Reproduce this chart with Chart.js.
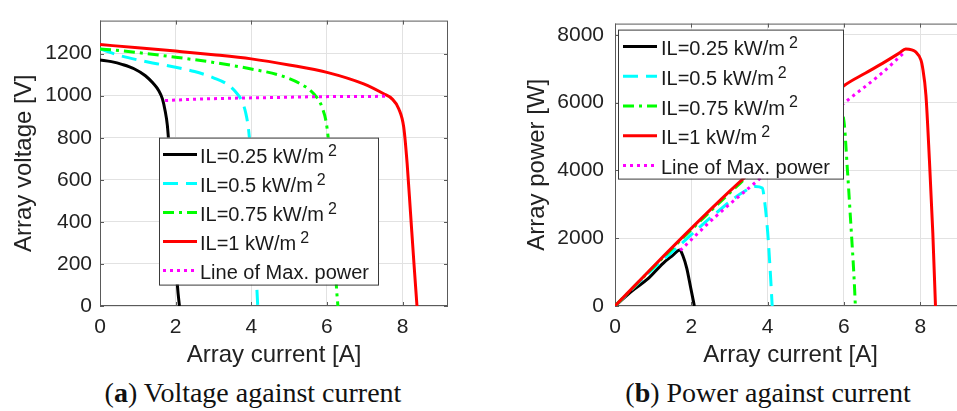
<!DOCTYPE html>
<html>
<head>
<meta charset="utf-8">
<title>PV array characteristics</title>
<script src="https://cdn.jsdelivr.net/npm/chart.js@4.4.0/dist/chart.umd.min.js"></script>
<style>
html,body{margin:0;padding:0;background:#fff;}
body{width:957px;height:411px;overflow:hidden;position:relative;}
.panel{position:absolute;top:0;height:376px;}
#pa{left:0;width:480px;}
#pb{left:480px;width:500px;}
.cap{position:absolute;top:379px;font-size:28px;line-height:28px;font-family:'Liberation Serif','Times New Roman',serif;color:#111;white-space:nowrap;transform:translateX(-50%);}
</style>
</head>
<body>
<div class="panel" id="pa"><canvas id="c-vi"></canvas></div>
<div class="panel" id="pb"><canvas id="c-pi"></canvas></div>
<div class="cap" style="left:253px">(<b>a</b>) Voltage against current</div>
<div class="cap" style="left:768px">(<b>b</b>) Power against current</div>
<script>
/* ══════════════ data ══════════════ */
const seriesNames=['IL=0.25 kW/m^2','IL=0.5 kW/m^2','IL=0.75 kW/m^2','IL=1 kW/m^2','Line of Max. power'];

const currentTicks=[0,2,4,6,8];
const voltageTicks=[0,200,400,600,800,1000,1200];
const powerTicks=[0,2000,4000,6000,8000];

// (a) array voltage [V] against array current [A]
const v025I=[0,0.3,0.6,0.9,1.2,1.4,1.55,1.65,1.72,1.78,1.84,1.92,2.0,2.05,2.1];
const v025V=[1170,1162,1148,1128,1095,1060,1025,985,930,860,720,500,240,90,0];
const v05I=[0,0.5,1,1.5,2,2.5,3,3.35,3.6,3.75,3.85,3.93,3.99,4.05,4.11,4.17];
const v05V=[1222,1192,1170,1152,1135,1115,1085,1056,1015,975,920,835,700,480,220,0];
const v075I=[0,0.5,1,2,3,4,4.77,5.3,5.65,5.87,6.0,6.09,6.18,6.25,6.29];
const v075V=[1222,1215,1205,1183,1158,1127,1096,1056,1009,945,850,677,360,92,0];
const v1I=[0,1,2,3,4,5,6,6.97,7.5,7.72,7.9,8.03,8.12,8.21,8.3,8.38];
const v1V=[1243,1228,1212,1195,1175,1146,1111,1056,1009,985,937,850,677,440,202,0];
const vMaxI=[1.72,2.5,3.5,4.5,5.7,7.6];
const vMaxV=[977,983,988,991,995,997];

// (b) array power [W] against array current [A]
const p025I=[0,0.45,0.85,1.26,1.5,1.7,1.78,1.88,1.98,2.08];
const p025P=[0,450,790,1260,1480,1655,1480,1118,560,0];
const p05I=[0,0.9,1.75,2.63,3.33,3.68,3.86,3.92,4.0,4.06,4.12];
const p05P=[0,990,1850,2725,3338,3527,3480,3100,2200,1200,0];
const p075I=[0,1,2,3,3.5,4,5,5.5,5.85,6.0,6.09,6.18,6.27,6.3];
const p075P=[0,1140,2250,3330,3850,4380,5350,5750,5850,5460,4045,2442,745,0];
const p1I=[0,1,2,3,3.5,4.5,5.25,6.0,6.57,7.01,7.45,7.62,7.89,8.02,8.06,8.15,8.24,8.33,8.4];
const p1P=[0,1160,2290,3380,3900,4960,5740,6497,6874,7157,7459,7580,7487,7252,7050,6214,4328,2159,0];
const pMaxI=[1.71,2.63,3.9,6.0,7.0,7.6];
const pMaxP=[1640,2631,3857,5979,6874,7500];

/* ══════════════ look ══════════════ */
Chart.defaults.font.family="'Liberation Sans', Arial, sans-serif";
Chart.defaults.color='#222';
Chart.defaults.animation=false;

const STYLE=[
  {color:'#000000',dash:[]},
  {color:'#00ffff',dash:[15,8]},
  {color:'#00ff00',dash:[11,5,3,5]},
  {color:'#ff0000',dash:[]},
  {color:'#ff00ff',dash:[3,4]},
];

const pts=(xs,ys)=>xs.map((x,i)=>({x,y:ys[i]}));

function mkSets(pairs){
  return pairs.map(([xs,ys],i)=>({
    label:seriesNames[i],data:pts(xs,ys),
    borderColor:STYLE[i].color,borderDash:STYLE[i].dash,borderWidth:3,
    pointRadius:0,cubicInterpolationMode:'monotone',fill:false,
    order:5-i,   // later series on top, as in the original
  }));
}

// axes frame + inward tick marks
const frame={
  id:'frame',
  beforeDatasetsDraw(chart){
    const{ctx,chartArea:a,scales:{x,y}}=chart;
    ctx.save();
    ctx.strokeStyle='#5a5a5a';ctx.lineWidth=1;
    ctx.strokeRect(a.left+.5,a.top+.5,a.right-a.left-1,a.bottom-a.top-1);
    ctx.beginPath();
    x.ticks.forEach(t=>{const p=Math.round(x.getPixelForValue(t.value))+.5;
      ctx.moveTo(p,a.bottom);ctx.lineTo(p,a.bottom-4);ctx.moveTo(p,a.top);ctx.lineTo(p,a.top+4);});
    y.ticks.forEach(t=>{const p=Math.round(y.getPixelForValue(t.value))+.5;
      ctx.moveTo(a.left,p);ctx.lineTo(a.left+4,p);ctx.moveTo(a.right,p);ctx.lineTo(a.right-4,p);});
    ctx.stroke();
    ctx.restore();
  }
};

// boxed legend inside the plot, MATLAB style
const boxLegend={
  id:'boxLegend',
  afterDraw(chart,args,o){
    const{ctx,chartArea:a}=chart;
    const bx=a.left+o.left,by=a.top+o.top;
    ctx.save();
    ctx.fillStyle='#fff';ctx.fillRect(bx,by,o.width,o.height);
    ctx.strokeStyle='#3a3a3a';ctx.lineWidth=1;ctx.strokeRect(bx+.5,by+.5,o.width,o.height);
    chart.data.datasets.forEach((ds,i)=>{
      const cy=by+o.first+i*o.step;
      ctx.beginPath();ctx.setLineDash(ds.borderDash||[]);
      ctx.strokeStyle=ds.borderColor;ctx.lineWidth=3;
      ctx.moveTo(bx+o.sx,cy);ctx.lineTo(bx+o.sx+34,cy);ctx.stroke();
      ctx.setLineDash([]);
      const[main,sup]=ds.label.split('^');
      const tx=bx+o.tx;
      ctx.fillStyle='#1a1a1a';ctx.textBaseline='middle';ctx.textAlign='left';
      ctx.font="20px 'Liberation Sans', Arial, sans-serif";
      ctx.fillText(main,tx,cy+3);
      if(sup){
        const w=ctx.measureText(main).width;
        ctx.font="16px 'Liberation Sans', Arial, sans-serif";
        ctx.fillText(sup,tx+w+4,cy-3);
      }
    });
    ctx.restore();
  }
};

function axes(yTicks,yMax,yTitle,yWidth,yPad,yTitlePad){
  return{
    x:{type:'linear',min:0,max:9.2,
      afterBuildTicks:s=>{s.ticks=currentTicks.map(v=>({value:v}));},
      afterFit:s=>{s.height=70;},
      grid:{color:'#e2e2e2',drawTicks:false},border:{display:false},
      ticks:{padding:9,font:{size:21},callback:v=>v},
      title:{display:true,text:'Array current [A]',font:{size:24},padding:{top:0,bottom:6}}},
    y:{type:'linear',min:0,max:yMax,
      afterBuildTicks:s=>{s.ticks=yTicks.map(v=>({value:v}));},
      afterFit:s=>{s.width=yWidth;},
      grid:{color:'#e2e2e2',drawTicks:false},border:{display:false},
      ticks:{padding:yPad,font:{size:21},callback:v=>v},
      title:{display:true,text:yTitle,font:{size:24},padding:{top:yTitlePad,bottom:0}}},
  };
}

function mkChart(id,datasets,scales,pad,leg){
  return new Chart(document.getElementById(id),{
    type:'line',
    data:{datasets},
    options:{
      responsive:true,maintainAspectRatio:false,
      layout:{padding:pad},
      plugins:{legend:{display:false},tooltip:{enabled:false},boxLegend:leg},
      scales,
    },
    plugins:[frame,boxLegend],
  });
}

mkChart('c-vi',
  mkSets([[v025I,v025V],[v05I,v05V],[v075I,v075V],[v1I,v1V],[vMaxI,vMaxV]]),
  axes(voltageTicks,1357,'Array voltage [V]',100,8,10),
  {left:0,top:19,right:32,bottom:0},
  {left:59,top:117,width:219,height:147,first:17,step:29,sx:4,tx:41});

mkChart('c-pi',
  mkSets([[p025I,p025P],[p05I,p05P],[p075I,p075P],[p1I,p1P],[pMaxI,pMaxP]]),
  axes(powerTicks,8330,'Array power [W]',135,11,43),
  {left:0,top:13,right:14,bottom:0},
  {left:3,top:6,width:225,height:149,first:17,step:29.7,sx:5,tx:43});
</script>
</body>
</html>
